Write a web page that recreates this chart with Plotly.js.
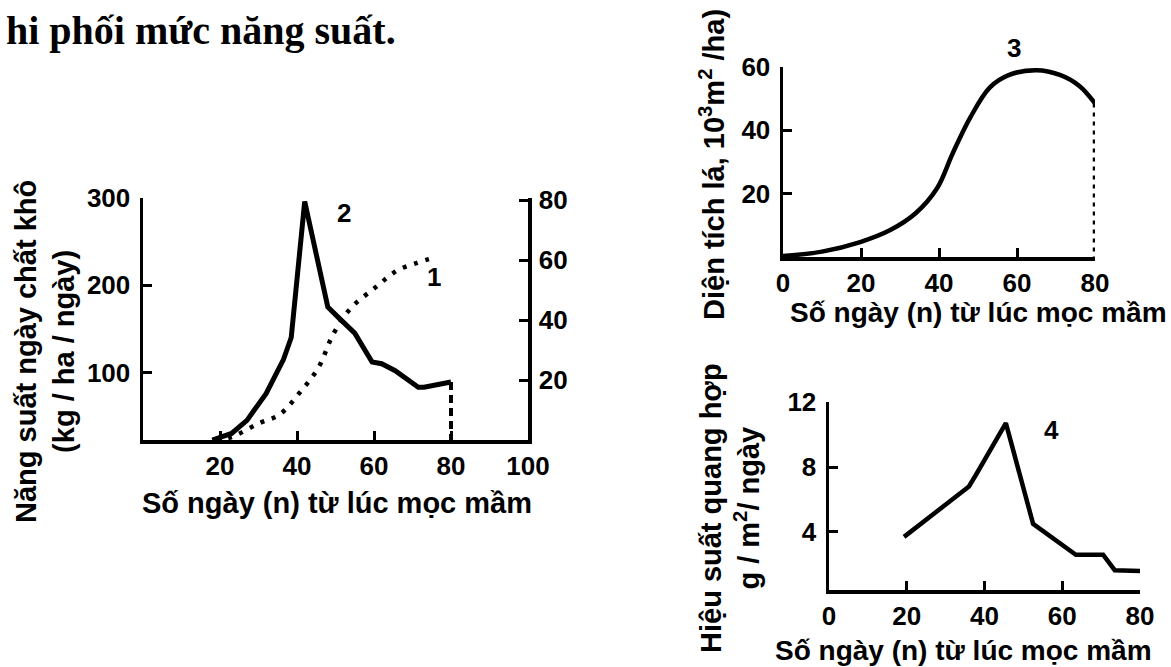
<!DOCTYPE html>
<html>
<head>
<meta charset="utf-8">
<script src="https://cdn.plot.ly/plotly-3.0.1.min.js"></script>
<style>
html,body{margin:0;padding:0;background:#fff;}
#chart{width:1171px;height:667px;}
</style>
</head>
<body>
<div id="chart"></div>
<script>
// ---- Chart 1/2 (left): daily dry-matter yield (2, left axis) and curve 1 (right axis)
const days2  = [18, 23, 27, 32, 36.5, 38.5, 42, 44, 48, 51, 55, 59.5, 62, 65.5, 71.5, 73, 80];
const yield2 = [22.5, 30, 45, 76, 115, 140, 296, 255, 175, 162, 145, 112, 110, 102, 83, 83, 89];
const days1  = [19, 23, 30, 35.5, 40.5, 45.5, 49.5, 54, 60.5, 66, 71, 76];
const curve1 = [0, 1, 5.5, 8.5, 15.5, 24, 35.5, 44, 51, 56.5, 59, 61];
const drop2X = [80, 80];
const drop2Y = [89, 22.5];
const ticks1X  = [20, 40, 60, 80, 100];
const ticks1Y  = [100, 200, 300];
const ticks1Y2 = [20, 40, 60, 80];

// ---- Chart 3 (top right): leaf area
const days3 = [0, 10, 20, 27.5, 34, 39.5, 43.5, 48, 53, 58, 65, 71, 76, 80];
const area3 = [0.3, 1.7, 4.8, 8.5, 13.8, 21.7, 32.7, 44, 53.5, 57.5, 59, 57.5, 54, 48.5];
const drop3X = [80, 80];
const drop3Y = [48.5, 0];
const ticks3X = [0, 20, 40, 60, 80];
const ticks3Y = [20, 40, 60];

// ---- Chart 4 (bottom right): photosynthetic efficiency
const days4 = [19.3, 36, 38, 45.5, 52.5, 57, 63.5, 70.5, 73.5, 80];
const eff4  = [3.7, 6.8, 7.6, 10.7, 4.5, 3.7, 2.6, 2.6, 1.65, 1.6];
const ticks4X = [0, 20, 40, 60, 80];
const ticks4Y = [4, 8, 12];

// ---- Text
const pageTitle = 'hi phối mức năng suất.';
const xTitle = 'Số ngày (n) từ lúc mọc mầm';
const yTitle1 = 'Năng suất ngày chất khô<br>(kg / ha / ngày)';
const yTitle3 = 'Diện tích lá, 10<sup>3</sup>m<sup>2</sup> /ha)';
const yTitle4 = 'Hiệu suất quang hợp<br>g / m<sup>2</sup>/ ngày';
const curveLabels = ['1', '2', '3', '4'];

const W = 1171, H = 667;
const px = v => v / W;
const py = v => 1 - v / H;
const FONT = 'Liberation Sans, Arial, sans-serif';
const tickFont = {family: FONT, size: 26, color: '#000', weight: 'bold'};
const titleFont = {family: FONT, size: 29, color: '#000', weight: 'bold'};
const titleFontSm = {family: FONT, size: 28, color: '#000', weight: 'bold'};
const labelFont = {family: FONT, size: 26, color: '#000', weight: 'bold'};

function ax(extra) {
  return Object.assign({
    showline: true, linecolor: '#000', linewidth: 3.5,
    showgrid: false, zeroline: false,
    ticks: 'inside', ticklen: 9, tickwidth: 3, tickcolor: '#000',
    tickfont: tickFont, fixedrange: true, tickmode: 'array'
  }, extra);
}

const traces = [
  {x: days2, y: yield2, xaxis: 'x', yaxis: 'y', mode: 'lines', cliponaxis: false,
   line: {color: '#000', width: 5}, hoverinfo: 'skip', showlegend: false},
  {x: drop2X, y: drop2Y, xaxis: 'x', yaxis: 'y', mode: 'lines', cliponaxis: false,
   line: {color: '#000', width: 4, dash: '8px,5px'}, hoverinfo: 'skip', showlegend: false},
  {x: days1, y: curve1, xaxis: 'x', yaxis: 'y2', mode: 'lines', cliponaxis: false,
   line: {color: '#000', width: 4.5, dash: '4px,8px', shape: 'spline'}, hoverinfo: 'skip', showlegend: false},
  {x: days3, y: area3, xaxis: 'x3', yaxis: 'y3', mode: 'lines', cliponaxis: false,
   line: {color: '#000', width: 4.5, shape: 'spline'}, hoverinfo: 'skip', showlegend: false},
  {x: drop3X, y: drop3Y, xaxis: 'x3', yaxis: 'y3', mode: 'lines', cliponaxis: false,
   line: {color: '#000', width: 4.5, dash: '4px,5px'}, hoverinfo: 'skip', showlegend: false},
  {x: days4, y: eff4, xaxis: 'x4', yaxis: 'y4', mode: 'lines', cliponaxis: false,
   line: {color: '#000', width: 4.5}, hoverinfo: 'skip', showlegend: false}
];

const layout = {
  width: W, height: H,
  margin: {l: 0, r: 0, t: 0, b: 0},
  paper_bgcolor: '#fff', plot_bgcolor: 'rgba(0,0,0,0)',
  showlegend: false,
  xaxis: ax({domain: [px(143), px(528)], range: [0, 100], anchor: 'y', tickvals: ticks1X}),
  yaxis: ax({domain: [py(440), py(198)], range: [22.5, 300], anchor: 'x', tickvals: ticks1Y, ticklabelstandoff: 4}),
  yaxis2: ax({overlaying: 'y', side: 'right', anchor: 'x', range: [0, 80.7], tickvals: ticks1Y2, ticklabelstandoff: 2}),
  xaxis3: ax({domain: [px(783), px(1095)], range: [0, 80], anchor: 'y3', tickvals: ticks3X}),
  yaxis3: ax({domain: [py(257), py(67)], range: [0, 60], anchor: 'x3', tickvals: ticks3Y, ticklabelstandoff: 4}),
  xaxis4: ax({domain: [px(829), px(1140)], range: [0, 80], anchor: 'y4', tickvals: ticks4X}),
  yaxis4: ax({domain: [py(590), py(402)], range: [0.43, 12], anchor: 'x4', tickvals: ticks4Y, ticklabelstandoff: 4}),
  annotations: [
    {text: pageTitle, xref: 'paper', yref: 'paper', x: px(4), y: py(6), xanchor: 'left', yanchor: 'top',
     showarrow: false, font: {family: 'Liberation Serif, Times New Roman, serif', size: 40, color: '#000', weight: 'bold'}},
    // left chart
    {text: yTitle1, xref: 'paper', yref: 'paper', x: px(45), y: py(352), xanchor: 'center', yanchor: 'middle',
     textangle: -90, showarrow: false, font: titleFont},
    {text: xTitle, xref: 'paper', yref: 'paper', x: px(337), y: py(503), xanchor: 'center', yanchor: 'middle',
     showarrow: false, font: titleFont},
    {text: curveLabels[1], xref: 'paper', yref: 'paper', x: px(335), y: py(196), showarrow: false, font: labelFont},
    {text: curveLabels[0], xref: 'x', yref: 'y2', x: 75.5, y: 54.3, showarrow: false, font: labelFont},
    // top right chart
    {text: yTitle3, xref: 'paper', yref: 'paper', x: px(712), y: py(165), xanchor: 'center', yanchor: 'middle',
     textangle: -90, showarrow: false, font: titleFont},
    {text: xTitle, xref: 'paper', yref: 'paper', x: px(978), y: py(312), xanchor: 'center', yanchor: 'middle',
     showarrow: false, font: titleFontSm},
    {text: curveLabels[2], xref: 'paper', yref: 'paper', x: px(1023), y: py(31), showarrow: false, font: labelFont},
    // bottom right chart
    {text: yTitle4, xref: 'paper', yref: 'paper', x: px(730), y: py(508), xanchor: 'center', yanchor: 'middle',
     textangle: -90, showarrow: false, font: titleFont},
    {text: xTitle, xref: 'paper', yref: 'paper', x: px(963), y: py(650), xanchor: 'center', yanchor: 'middle',
     showarrow: false, font: titleFontSm},
    {text: curveLabels[3], xref: 'x4', yref: 'y4', x: 57.2, y: 10.3, showarrow: false, font: labelFont}
  ]
};

Plotly.newPlot('chart', traces, layout, {staticPlot: true, displayModeBar: false});
</script>
</body>
</html>
